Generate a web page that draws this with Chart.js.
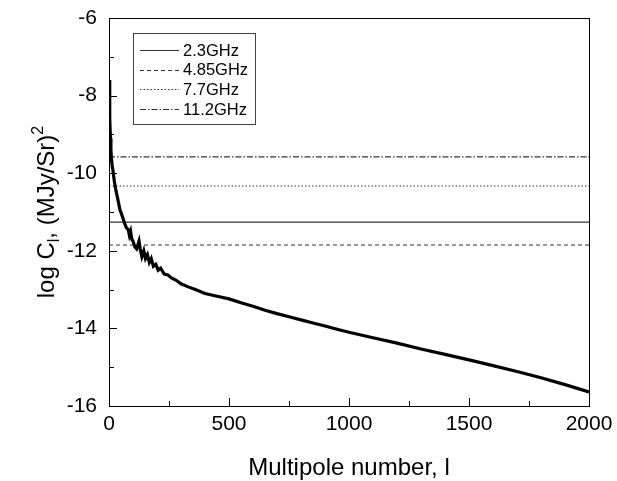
<!DOCTYPE html>
<html>
<head>
<meta charset="utf-8">
<script src="https://cdn.jsdelivr.net/npm/chart.js@4.4.1/dist/chart.umd.min.js"></script>
<style>
  html, body { margin: 0; padding: 0; background: #fff; }
  #wrap { width: 617px; height: 481px; }
</style>
</head>
<body>
<div id="wrap"><canvas id="cl" width="617" height="481"></canvas></div>
<script>
// multipole number l and log C_l
const multipole = [0, 2, 4, 6, 8, 10, 13, 17, 22, 29, 36, 46, 55, 63, 72, 80, 85, 90, 95, 100,
  108, 115, 125, 130, 137, 145, 152, 160, 168, 176, 185, 195, 205, 215, 230, 245, 260, 280, 300,
  330, 360, 400, 450, 500, 550, 600, 650, 700, 750, 800, 850, 900, 950, 1000, 1100, 1200, 1300,
  1400, 1500, 1600, 1700, 1800, 1900, 2000];
const logCl = [-7.6, -7.9, -8.6, -9.1, -9.4, -9.6, -9.8, -9.95, -10.2, -10.45, -10.65, -10.95, -11.1,
  -11.25, -11.4, -11.45, -11.6, -11.5, -11.7, -11.75, -11.9, -11.95, -11.75, -11.95, -12.15, -12.0,
  -12.2, -12.1, -12.3, -12.2, -12.4, -12.35, -12.5, -12.45, -12.6, -12.62, -12.7, -12.76, -12.85,
  -12.93, -13.0, -13.1, -13.17, -13.24, -13.34, -13.43, -13.53, -13.62, -13.7, -13.78, -13.86,
  -13.94, -14.02, -14.1, -14.24, -14.38, -14.53, -14.67, -14.81, -14.96, -15.11, -15.27, -15.45, -15.64];

// noise levels of the four bands
const bandLabels = ["2.3GHz", "4.85GHz", "7.7GHz", "11.2GHz"];
const bandLevels = [-11.26, -11.85, -10.33, -9.58];
const bandDashes = [[], [4, 3], [1.5, 2], [6, 2, 1.5, 2]];

const xRange = [0, 2000];
const yRange = [-16, -6];
const xStep = 500, xMinor = 250;
const yStep = 2, yMinor = 1;

const FONT = "'Liberation Sans', Arial, sans-serif";

const curve = multipole.map((l, i) => ({ x: l, y: logCl[i] }));

const datasets = [
  { label: "data", data: curve, borderColor: "#000", borderWidth: 3.2, pointRadius: 0, tension: 0, order: 0 },
];
bandLabels.forEach((lab, i) => {
  datasets.push({
    label: lab,
    data: xRange.map(x => ({ x, y: bandLevels[i] })),
    borderColor: "#333",
    borderWidth: 1.2,
    borderDash: bandDashes[i],
    pointRadius: 0,
    order: 1,
  });
});

// inward ticks, frame, axis titles and legend box
const decor = {
  id: "decor",
  afterDraw(chart) {
    const { ctx, chartArea: a, scales } = chart;
    const xs = scales.x, ys = scales.y;
    ctx.save();
    ctx.strokeStyle = "#000";
    ctx.lineWidth = 1;
    ctx.strokeRect(a.left + 0.5, a.top + 0.5, a.right - a.left, a.bottom - a.top);

    ctx.beginPath();
    for (let v = xRange[0]; v <= xRange[1]; v += xMinor) {
      const px = Math.round(xs.getPixelForValue(v)) + 0.5;
      const len = v % xStep === 0 ? 8 : 5;
      ctx.moveTo(px, a.bottom);
      ctx.lineTo(px, a.bottom - len);
    }
    for (let v = yRange[0]; v <= yRange[1]; v += yMinor) {
      const py = Math.round(ys.getPixelForValue(v)) + 0.5;
      const len = v % yStep === 0 ? 8 : 5;
      ctx.moveTo(a.left, py);
      ctx.lineTo(a.left + len, py);
    }
    ctx.stroke();

    // x title
    ctx.fillStyle = "#000";
    ctx.font = "24px " + FONT;
    ctx.textAlign = "center";
    ctx.textBaseline = "alphabetic";
    ctx.fillText("Multipole number, l", (a.left + a.right) / 2, 475);

    // y title with subscript / superscript
    const big = "24px " + FONT, small = "16px " + FONT;
    const parts = [
      { t: "log C", f: big, dy: 0 },
      { t: "l", f: small, dy: 5 },
      { t: ", (MJy/Sr)", f: big, dy: 0 },
      { t: "2", f: small, dy: -11 },
    ];
    let total = 0;
    parts.forEach(p => { ctx.font = p.f; p.w = ctx.measureText(p.t).width; total += p.w; });
    ctx.translate(54, (a.top + a.bottom) / 2);
    ctx.rotate(-Math.PI / 2);
    ctx.textAlign = "left";
    let cx = -total / 2;
    parts.forEach(p => { ctx.font = p.f; ctx.fillText(p.t, cx, p.dy); cx += p.w; });
    ctx.setTransform(1, 0, 0, 1, 0, 0);

    // legend
    const bx = 133, by = 33, bw = 122, bh = 91;
    ctx.fillStyle = "#fff";
    ctx.fillRect(bx, by, bw, bh);
    ctx.strokeStyle = "#444";
    ctx.strokeRect(bx + 0.5, by + 0.5, bw, bh);
    ctx.font = "16.5px " + FONT;
    ctx.textBaseline = "middle";
    chart.data.datasets.slice(1).forEach((ds, i) => {
      const y = by + 17 + i * 19.7;
      ctx.strokeStyle = ds.borderColor;
      ctx.lineWidth = 1.2;
      ctx.setLineDash(ds.borderDash);
      ctx.beginPath();
      ctx.moveTo(bx + 7, Math.round(y) + 0.5);
      ctx.lineTo(bx + 46, Math.round(y) + 0.5);
      ctx.stroke();
      ctx.setLineDash([]);
      ctx.fillStyle = "#000";
      ctx.fillText(ds.label, bx + 50, y + 1);
    });
    ctx.restore();
  },
};

new Chart(document.getElementById("cl"), {
  type: "line",
  data: { datasets },
  options: {
    responsive: false,
    animation: false,
    devicePixelRatio: 1,
    layout: { padding: { top: 18, right: 28, left: 0, bottom: 0 } },
    plugins: { legend: { display: false }, tooltip: { enabled: false } },
    scales: {
      x: {
        type: "linear",
        min: xRange[0],
        max: xRange[1],
        afterFit(s) { s.height = 75; s.paddingLeft = 0; s.paddingRight = 0; },
        ticks: { stepSize: xStep, color: "#000", font: { family: FONT, size: 21 }, padding: 6, maxRotation: 0,
          callback: v => String(v) },
        grid: { display: true, drawOnChartArea: false, drawTicks: false },
        border: { display: false },
      },
      y: {
        type: "linear",
        min: yRange[0],
        max: yRange[1],
        afterFit(s) { s.width = 109; s.paddingTop = 0; s.paddingBottom = 0; },
        ticks: { stepSize: yStep, color: "#000", font: { family: FONT, size: 21 }, padding: 12,
          callback: v => String(v) },
        grid: { display: true, drawOnChartArea: false, drawTicks: false },
        border: { display: false },
      },
    },
  },
  plugins: [decor],
});
</script>
</body>
</html>
